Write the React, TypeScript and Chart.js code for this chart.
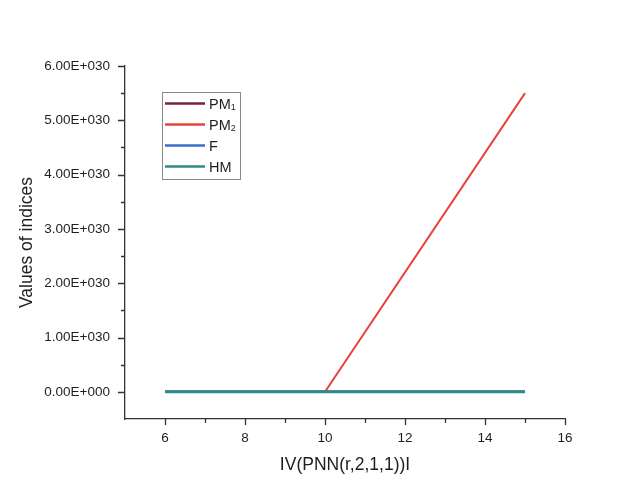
import { useEffect, useRef } from 'react';
import { Chart, registerables } from 'chart.js';

Chart.register(...registerables);

// ---- data ----
const xValues = [6, 10, 15];
const pm1Values = [0, 0, 0];
const pm2Values = [0, 0, 5.5e30];
const fValues = [0, 0, 0];
const hmValues = [0, 0, 0];
const seriesLabels = ['PM₁', 'PM₂', 'F', 'HM'];
const seriesColors = ['#7a2241', '#e8433b', '#3c6dc8', '#2f8b89'];
const seriesWidths = [2, 2, 2.5, 3];

const xMajorTicks = [6, 8, 10, 12, 14, 16];
const xMinorTicks = [7, 9, 11, 13, 15];
const yMajorTicks = [0, 1e30, 2e30, 3e30, 4e30, 5e30, 6e30];
const yMinorTicks = [0.5e30, 1.5e30, 2.5e30, 3.5e30, 4.5e30, 5.5e30];

const xTitle = 'IV(PNN(r,2,1,1))I';
const yTitle = 'Values of indices';

function sci(v: number): string {
  if (v === 0) return '0.00E+000';
  const exp = Math.floor(Math.log10(Math.abs(v)) + 1e-9);
  const mant = v / Math.pow(10, exp);
  const sign = exp < 0 ? '-' : '+';
  return `${mant.toFixed(2)}E${sign}${String(Math.abs(exp)).padStart(3, '0')}`;
}

const FONT = 'Liberation Sans, Arial, sans-serif';
const AXIS_COLOR = '#333';
const TEXT_COLOR = '#1e1e1e';

const tickPlugin = {
  id: 'originTicks',
  afterDraw(chart: any) {
    const ctx = chart.ctx;
    const xs = chart.scales.x;
    const ys = chart.scales.y;
    const area = chart.chartArea;
    ctx.save();
    ctx.strokeStyle = AXIS_COLOR;
    ctx.lineWidth = 1.3;
    ctx.beginPath();
    for (const v of yMajorTicks) {
      const p = Math.round(ys.getPixelForValue(v)) + 0.5;
      ctx.moveTo(area.left - 7, p);
      ctx.lineTo(area.left, p);
    }
    for (const v of yMinorTicks) {
      const p = Math.round(ys.getPixelForValue(v)) + 0.5;
      ctx.moveTo(area.left - 4, p);
      ctx.lineTo(area.left, p);
    }
    for (const v of xMajorTicks) {
      const p = Math.round(xs.getPixelForValue(v)) + 0.5;
      ctx.moveTo(p, area.bottom);
      ctx.lineTo(p, area.bottom + 6);
    }
    for (const v of xMinorTicks) {
      const p = Math.round(xs.getPixelForValue(v)) + 0.5;
      ctx.moveTo(p, area.bottom);
      ctx.lineTo(p, area.bottom + 4);
    }
    ctx.stroke();

    // legend box
    const bx = 162.5, by = 92.5, bw = 78, bh = 87;
    ctx.strokeStyle = '#8a8a8a';
    ctx.lineWidth = 1;
    ctx.strokeRect(bx, by, bw, bh);
    const datasets = chart.data.datasets;
    ctx.textBaseline = 'middle';
    ctx.textAlign = 'left';
    datasets.forEach((ds: any, i: number) => {
      const y = 103.5 + i * 21;
      ctx.strokeStyle = ds.borderColor;
      ctx.lineWidth = 2.5;
      ctx.beginPath();
      ctx.moveTo(165, y);
      ctx.lineTo(205, y);
      ctx.stroke();
      ctx.fillStyle = TEXT_COLOR;
      const label: string = ds.label;
      const m = label.match(/^(.*?)([₀-₉])$/);
      ctx.font = `14.5px ${FONT}`;
      if (m) {
        ctx.fillText(m[1], 209, y + 1);
        const w = ctx.measureText(m[1]).width;
        ctx.font = `9px ${FONT}`;
        const digit = String(m[2].charCodeAt(0) - 0x2080);
        ctx.fillText(digit, 209 + w, y + 4);
      } else {
        ctx.fillText(label, 209, y + 1);
      }
    });
    ctx.restore();
  },
};

export default function App() {
  const ref = useRef<HTMLCanvasElement | null>(null);
  useEffect(() => {
    document.body.style.margin = '0';
    document.body.style.background = '#fff';
    const canvas = ref.current;
    if (!canvas) return;
    const seriesData = [pm1Values, pm2Values, fValues, hmValues];
    const chart = new Chart(canvas, {
      type: 'line',
      data: {
        datasets: seriesData.map((vals, i) => ({
          label: seriesLabels[i],
          data: xValues.map((x, j) => ({ x, y: vals[j] })),
          borderColor: seriesColors[i],
          backgroundColor: seriesColors[i],
          borderWidth: seriesWidths[i],
          pointRadius: 0,
          tension: 0,
          fill: false,
          order: seriesData.length - i,
        })),
      },
      options: {
        animation: false,
        responsive: false,
        maintainAspectRatio: false,
        layout: { padding: { top: 66, right: 78, left: 0, bottom: 0 } },
        plugins: {
          legend: { display: false },
          tooltip: { enabled: false },
        },
        scales: {
          x: {
            type: 'linear',
            min: 5,
            max: 16,
            afterBuildTicks: (s: any) => {
              s.ticks = xMajorTicks.map((value) => ({ value }));
            },
            afterFit: (s: any) => {
              s.height = 73;
            },
            grid: { display: false, drawTicks: false },
            border: { display: true, color: AXIS_COLOR, width: 1.3 },
            ticks: {
              color: TEXT_COLOR,
              font: { family: FONT, size: 13.5 },
              padding: 11,
              maxRotation: 0,
            },
            title: {
              display: true,
              text: xTitle,
              color: TEXT_COLOR,
              font: { family: FONT, size: 17.5 },
              padding: { top: 4, bottom: 16 },
            },
          },
          y: {
            type: 'linear',
            min: -0.5e30,
            max: 6e30,
            afterBuildTicks: (s: any) => {
              s.ticks = yMajorTicks.map((value) => ({ value }));
            },
            afterFit: (s: any) => {
              s.width = 125;
            },
            grid: { display: false, drawTicks: false },
            border: { display: true, color: AXIS_COLOR, width: 1.3 },
            ticks: {
              color: TEXT_COLOR,
              font: { family: FONT, size: 13.5 },
              padding: 15,
              callback: (v: any) => sci(Number(v)),
            },
            title: {
              display: true,
              text: yTitle,
              color: TEXT_COLOR,
              font: { family: FONT, size: 17.5 },
              padding: { top: 17, bottom: 4 },
            },
          },
        },
      },
      plugins: [tickPlugin],
    });
    return () => chart.destroy();
  }, []);
  return (
    <div style={{ width: 643, height: 492, background: '#fff' }}>
      <canvas ref={ref} width={643} height={492} style={{ display: 'block' }} />
    </div>
  );
}
